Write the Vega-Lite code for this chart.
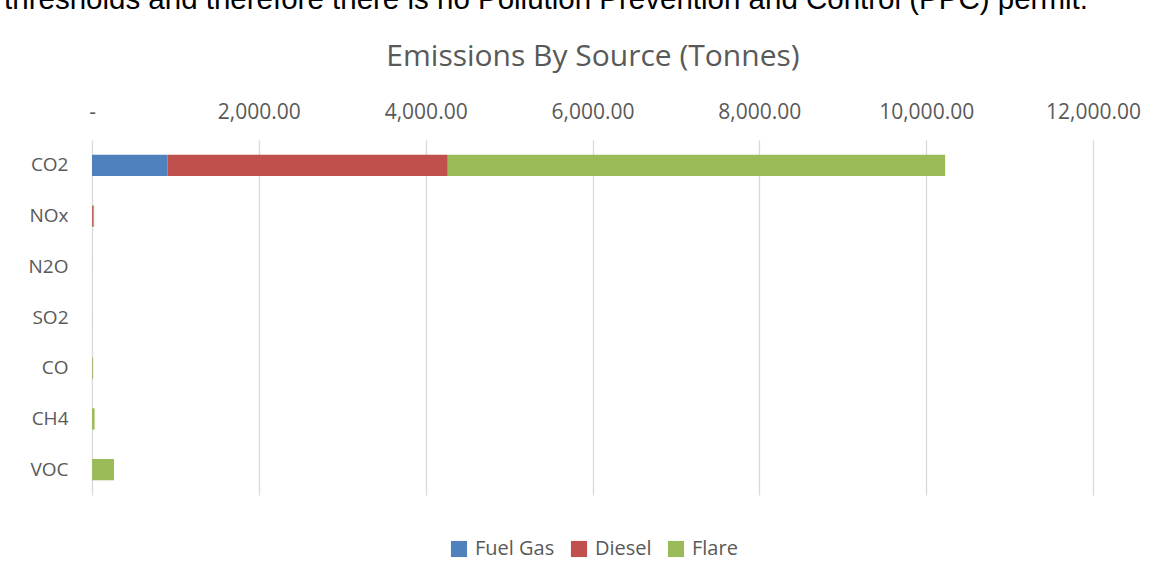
{
  "$schema": "https://vega.github.io/schema/vega-lite/v6.json",
  "autosize": "none",
  "width": 1001,
  "height": 355,
  "padding": {"left": 92, "top": 140, "right": 74, "bottom": 82},
  "background": "white",
  "title": {
    "text": "thresholds and therefore there is no Pollution Prevention and Control (PPC) permit.",
    "anchor": "start",
    "frame": "bounds",
    "font": "Liberation Sans",
    "fontSize": 29.5,
    "fontWeight": "normal",
    "color": "#000000",
    "offset": 26,
    "dx": -24
  },
  "data": {
    "values": [
      {"pollutant": "CO2", "source": "Fuel Gas", "tonnes": 907},
      {"pollutant": "CO2", "source": "Diesel", "tonnes": 3358},
      {"pollutant": "CO2", "source": "Flare", "tonnes": 5963},
      {"pollutant": "NOx", "source": "Fuel Gas", "tonnes": 2},
      {"pollutant": "NOx", "source": "Diesel", "tonnes": 10},
      {"pollutant": "NOx", "source": "Flare", "tonnes": 14},
      {"pollutant": "N2O", "source": "Fuel Gas", "tonnes": 0.05},
      {"pollutant": "N2O", "source": "Diesel", "tonnes": 0.15},
      {"pollutant": "N2O", "source": "Flare", "tonnes": 0.2},
      {"pollutant": "SO2", "source": "Fuel Gas", "tonnes": 0.02},
      {"pollutant": "SO2", "source": "Diesel", "tonnes": 0.05},
      {"pollutant": "SO2", "source": "Flare", "tonnes": 0.5},
      {"pollutant": "CO", "source": "Fuel Gas", "tonnes": 1},
      {"pollutant": "CO", "source": "Diesel", "tonnes": 3},
      {"pollutant": "CO", "source": "Flare", "tonnes": 9},
      {"pollutant": "CH4", "source": "Fuel Gas", "tonnes": 0.5},
      {"pollutant": "CH4", "source": "Diesel", "tonnes": 0.5},
      {"pollutant": "CH4", "source": "Flare", "tonnes": 30},
      {"pollutant": "VOC", "source": "Fuel Gas", "tonnes": 0.5},
      {"pollutant": "VOC", "source": "Diesel", "tonnes": 1},
      {"pollutant": "VOC", "source": "Flare", "tonnes": 262}
    ]
  },
  "transform": [
    {"calculate": "indexof(['Fuel Gas', 'Diesel', 'Flare'], datum.source)", "as": "stackRank"}
  ],
  "mark": {"type": "bar"},
  "encoding": {
    "y": {
      "field": "pollutant",
      "type": "nominal",
      "sort": ["CO2", "NOx", "N2O", "SO2", "CO", "CH4", "VOC"],
      "scale": {"paddingInner": 0.58, "paddingOuter": 0.29},
      "axis": {
        "title": null,
        "domain": false,
        "ticks": false,
        "labelPadding": 24,
        "labelFont": "Open Sans",
        "labelFontSize": 19,
        "labelColor": "#595959"
      }
    },
    "x": {
      "field": "tonnes",
      "type": "quantitative",
      "aggregate": "sum",
      "stack": "zero",
      "scale": {"domain": [0, 12000], "nice": false},
      "axis": {
        "orient": "top",
        "values": [0, 2000, 4000, 6000, 8000, 10000, 12000],
        "labelExpr": "datum.value == 0 ? '-' : format(datum.value, ',.2f')",
        "labelFlush": false,
        "labelOverlap": false,
        "domain": false,
        "ticks": false,
        "grid": true,
        "gridColor": "#d9d9d9",
        "gridWidth": 1.3,
        "labelPadding": 18,
        "labelFont": "Open Sans",
        "labelFontSize": 21,
        "labelColor": "#595959",
        "title": "Emissions By Source (Tonnes)",
        "titleFont": "Open Sans",
        "titleFontSize": 30,
        "titleFontWeight": "normal",
        "titleColor": "#595959",
        "titlePadding": 30
      }
    },
    "order": {"field": "stackRank", "type": "quantitative"},
    "color": {
      "field": "source",
      "type": "nominal",
      "sort": ["Fuel Gas", "Diesel", "Flare"],
      "scale": {"domain": ["Fuel Gas", "Diesel", "Flare"], "range": ["#4f81bd", "#c0504d", "#9bbb59"]},
      "legend": {
        "orient": "none",
        "legendX": 357,
        "legendY": 399,
        "direction": "horizontal",
        "title": null,
        "symbolType": "square",
        "symbolSize": 260,
        "symbolStrokeWidth": 0,
        "labelFont": "Open Sans",
        "labelFontSize": 20,
        "labelColor": "#595959",
        "columnPadding": 14,
        "labelOffset": 6
      }
    }
  },
  "config": {"view": {"stroke": null}}
}
